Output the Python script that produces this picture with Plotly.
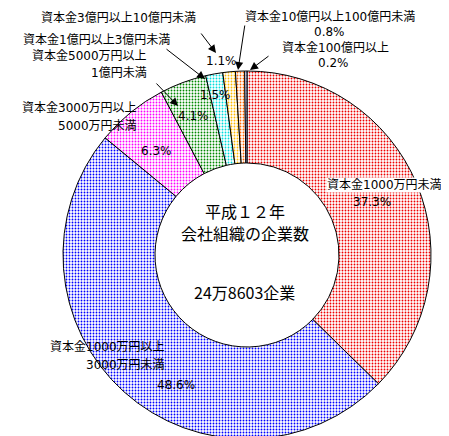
import plotly.graph_objects as go

# ---- data ----
categories = [
    "資本金1000万円未満",
    "資本金1000万円以上3000万円未満",
    "資本金3000万円以上5000万円未満",
    "資本金5000万円以上1億円未満",
    "資本金1億円以上3億円未満",
    "資本金3億円以上10億円未満",
    "資本金10億円以上100億円未満",
    "資本金100億円以上",
]
shares = [37.3, 48.6, 6.3, 4.1, 1.5, 1.1, 0.8, 0.2]
pct_labels = ["37.3%", "48.6%", "6.3%", "4.1%", "1.5%", "1.1%", "0.8%", "0.2%"]
colors = ["#ee0000", "#0000ff", "#ff00ff", "#008800", "#00dddd", "#ffbb00", "#ff6600", "#8888ee"]
center_lines = ["平成１２年", "会社組織の企業数", "24万8603企業"]

W, H = 449, 436
FONT = "DejaVu Sans, Noto Sans CJK JP"
FS = 12


def px(x):
    return x / W


def py(y):
    return 1 - y / H


# donut geometry (pixels)
cx, cy, R = 239, 247, 184

fig = go.Figure()
fig.add_trace(go.Pie(
    labels=categories,
    values=shares,
    sort=False,
    direction="clockwise",
    rotation=0,
    hole=0.5,
    textinfo="none",
    hoverinfo="label+percent",
    showlegend=False,
    marker=dict(
        colors=colors,
        line=dict(color="black", width=1),
        pattern=dict(shape=".", fgcolor=colors, bgcolor="white", size=3, solidity=0.3),
    ),
    domain=dict(x=[px(cx - R), px(cx + R)], y=[py(cy + R), py(cy - R)]),
))

ann = []


def text(x, y, s, xanchor="center", align="center", size=FS, bg=None, family=FONT):
    d = dict(x=px(x), y=py(y), xref="paper", yref="paper", text=s, showarrow=False,
             xanchor=xanchor, yanchor="middle", align=align,
             font=dict(family=family, size=size, color="black"))
    if bg:
        d["bgcolor"] = bg
        d["borderpad"] = 0
    ann.append(d)


def arrow(x0, y0, x1, y1):
    # tail (x0,y0) -> head (x1,y1) in pixels
    ann.append(dict(x=px(x1), y=py(y1), xref="paper", yref="paper", text="",
                    showarrow=True, ax=x0 - x1, ay=y0 - y1, axref="pixel", ayref="pixel",
                    arrowhead=2, arrowsize=1.6, arrowwidth=1, arrowcolor="black", standoff=0))


# outside labels
text(110, 10, categories[5])
text(213, 53, pct_labels[5])
arrow(192, 24, 208, 45)

text(322, 9, categories[6])
text(321, 24, pct_labels[6])
arrow(237, 16, 230, 62)

text(327, 40, categories[7])
text(325, 55, pct_labels[7])
arrow(262, 47, 242, 62)

text(164, 32, categories[4], xanchor="right", align="right")
text(207, 87, pct_labels[4])
arrow(157, 40, 197, 71)

text(141, 48, "資本金5000万円以上", xanchor="right")
text(141, 65, "1億円未満", xanchor="right")
text(185, 108, pct_labels[3])
arrow(147, 74, 170, 98)

text(131, 100, "資本金3000万円以上", xanchor="right")
text(131, 118, "5000万円未満", xanchor="right")
text(148, 143, pct_labels[2])

text(376, 177, categories[0], bg="white")
text(364, 194, pct_labels[0])

text(159, 339, "資本金1000万円以上", xanchor="right")
text(159, 357, "3000万円未満", xanchor="right")
text(168, 377, pct_labels[1])

# centre text
CF = "Noto Sans CJK JP"
text(237, 203, center_lines[0], size=16, family=CF)
text(237, 225, center_lines[1], size=16, family=CF)
text(237, 284, center_lines[2], size=16, family=CF)

fig.update_layout(
    width=W, height=H,
    margin=dict(l=0, r=0, t=0, b=0),
    paper_bgcolor="white", plot_bgcolor="white",
    annotations=ann,
)

fig.write_html("out.html")
